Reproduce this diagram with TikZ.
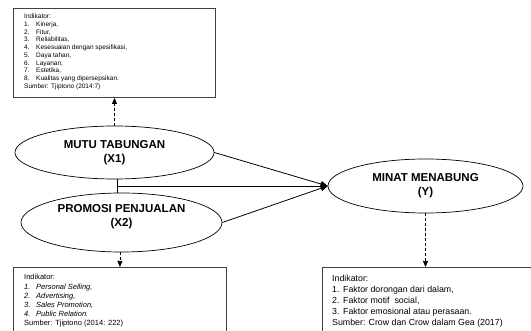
\documentclass[tikz,border=0pt]{standalone}
\usepackage{fontspec}
\setmainfont{Liberation Sans}
\usetikzlibrary{shapes.geometric,arrows.meta}
\begin{document}
\begin{tikzpicture}[x=1pt,y=-1pt,
  var/.style={draw=black, line width=0.7pt, ellipse, inner sep=0pt, font=\fontsize{11.5}{14}\selectfont\bfseries, align=center},
  vtext/.style={inner sep=0pt, font=\fontsize{11.5}{14}\selectfont\bfseries, align=center},
  ind/.style={draw=black!75, line width=0.9pt, rectangle, inner sep=0pt, anchor=north west},
  txt/.style={inner sep=0pt, anchor=north west, align=left},
  link/.style={line width=0.8pt, -{Triangle[length=7pt,width=6pt]}},
  dlink/.style={line width=0.7pt, dash pattern=on 3pt off 2pt, -{Triangle[length=6pt,width=5pt]}}
]
\useasboundingbox (0,0) rectangle (531,331);
\fill[white] (0,0) rectangle (531,331);

% indicator boxes
\node[ind, minimum width=202pt, minimum height=89pt] (B1) at (13,8) {};
\node[ind, minimum width=213pt, minimum height=80pt] (B2) at (13,267) {};
\node[ind, minimum width=230pt, minimum height=80pt] (B3) at (322,267) {};

\node[txt, font=\fontsize{6.5}{7.78}\selectfont] (T1) at (24,13.6) {Indikator:\\
\makebox[12pt][l]{1.}Kinerja,\\
\makebox[12pt][l]{2.}Fitur,\\
\makebox[12pt][l]{3.}Reliabilitas,\\
\makebox[12pt][l]{4.}Kesesuaian dengan spesifikasi,\\
\makebox[12pt][l]{5.}Daya tahan,\\
\makebox[12pt][l]{6.}Layanan,\\
\makebox[12pt][l]{7.}Estetika,\\
\makebox[12pt][l]{8.}Kualitas yang dipersepsikan.\\
Sumber: Tjiptono (2014:7)};

\node[txt, font=\fontsize{7.5}{9.2}\selectfont] (T2) at (24,274.3) {Indikator:\\
\textit{\makebox[12pt][l]{1.}Personal Selling,}\\
\textit{\makebox[12pt][l]{2.}Advertising,}\\
\textit{\makebox[12pt][l]{3.}Sales Promotion,}\\
\textit{\makebox[12pt][l]{4.}Public Relation.}\\
Sumber: Tjiptono (2014: 222)};

\node[txt, font=\fontsize{8.8}{11}\selectfont] (T3) at (332,274.8) {Indikator:\\
\makebox[11pt][l]{1.}Faktor dorongan dari dalam,\\
\makebox[11pt][l]{2.}Faktor motif\ \ social,\\
\makebox[11pt][l]{3.}Faktor emosional atau perasaan.\\
Sumber: Crow dan Crow dalam Gea (2017)};

% variables
\node[var, minimum width=199pt, minimum height=53pt] (X1) at (114.5,152.5) {MUTU TABUNGAN\\(X1)};
\node[var, minimum width=201pt, minimum height=59pt] (X2) at (121.5,222.5) {};
\node[vtext] (X2t) at (121.5,217) {PROMOSI PENJUALAN\\(X2)};
\node[var, minimum width=195pt, minimum height=54pt] (Y) at (425.5,186) {MINAT MENABUNG\\(Y)};

% connectors
\coordinate (J) at (117,186);
\draw[line width=0.7pt] (J |- X1.south) -- (J |- X2.north);
\draw[link] (J) -- (Y.west);
\draw[link] (X1.east) -- (Y.west);
\draw[link] (X2.east) -- (Y.west);

\draw[dlink] (X1.north) -- (X1.north |- B1.south);
\draw[dlink] (B2.north |- X2.south) -- (B2.north);
\draw[dlink] (Y.south) -- (Y.south |- B3.north);
\end{tikzpicture}
\end{document}
